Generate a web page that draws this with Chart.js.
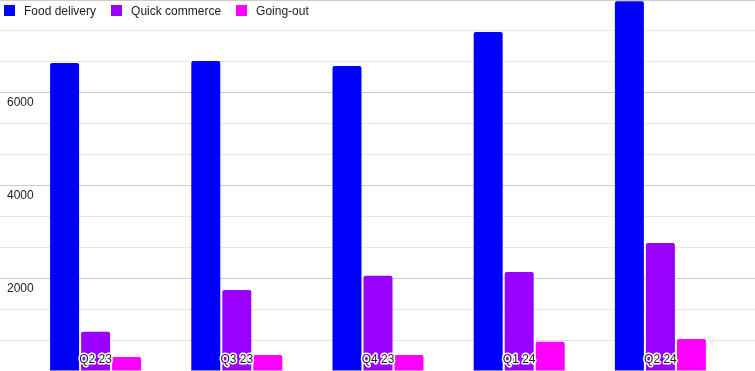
<!DOCTYPE html>
<html>
<head>
<meta charset="utf-8">
<script src="https://cdn.jsdelivr.net/npm/chart.js@4"></script>
<style>
    body { margin: 0; background: #fff; }
    #wrap { position: relative; width: 755px; height: 371px; }
    #legend { position: absolute; left: 4px; top: 5px; display: flex; font: 12px "Liberation Sans", Arial, sans-serif; color: #222; }
    .item { display: flex; align-items: center; margin-right: 15px; height: 11px; }
    .box { width: 11px; height: 11px; margin-right: 9px; }
</style>
</head>
<body>
<div id="wrap">
    <canvas id="chart"></canvas>
    <div id="legend"></div>
</div>
<script>
// Data
const quarters = ['Q2 23', 'Q3 23', 'Q4 23', 'Q1 24', 'Q2 24'];
const foodDelivery = [6640, 6685, 6575, 7310, 7975];
const quickCommerce = [845, 1745, 2055, 2135, 2760];
const goingOut = [300, 345, 345, 630, 690];
const yMax = 8000;
const yStep = 2000 / 3;

Chart.defaults.font.family = '"Liberation Sans", Arial, sans-serif';
Chart.defaults.font.size = 12;
Chart.defaults.color = '#222';

function isMajor(v) {
    return Math.abs(v / 2000 - Math.round(v / 2000)) < 1e-6;
}

const gridColor = ctx => isMajor(ctx.tick.value) ? '#cccccc' : '#e6e6e6';

// round joins so the white halo round the x labels has no spikes
const roundJoins = {
    id: 'roundJoins',
    beforeDraw(chart) {
        chart.ctx.lineJoin = 'round';
    }
};

const ctx = document.getElementById('chart').getContext('2d');
const chart = new Chart(ctx, {
    type: 'bar',
    data: {
        labels: quarters,
        datasets: [
            { label: 'Food delivery', data: foodDelivery, backgroundColor: '#0000ff' },
            { label: 'Quick commerce', data: quickCommerce, backgroundColor: '#9900ff' },
            { label: 'Going-out', data: goingOut, backgroundColor: '#ff00ff' }
        ]
    },
    options: {
        responsive: true,
        maintainAspectRatio: false,
        animation: false,
        categoryPercentage: 0.659,
        barPercentage: 0.935,
        borderRadius: 2,
        plugins: {
            legend: { display: false },
            tooltip: { enabled: false }
        },
        scales: {
            x: {
                grid: { display: false },
                border: { display: false },
                ticks: {
                    mirror: true,
                    padding: 4,
                    autoSkip: false,
                    maxRotation: 0,
                    textStrokeColor: '#fff',
                    textStrokeWidth: 3,
                    z: 1
                },
                afterFit: scale => { scale.height = 0; }
            },
            y: {
                min: 0,
                max: yMax,
                border: { display: false },
                grid: { color: gridColor, tickColor: gridColor, tickLength: 43 },
                ticks: {
                    stepSize: yStep,
                    maxTicksLimit: 20,
                    autoSkip: false,
                    mirror: true,
                    padding: -18,
                    labelOffset: 10,
                    callback: v => (isMajor(v) && v > 1 && v < yMax - 1) ? String(Math.round(v)) : ''
                },
                afterFit: scale => { scale.width = 25; }
            },
            y2: {
                position: 'right',
                min: 0,
                max: yMax,
                border: { display: false },
                grid: { color: gridColor, tickColor: gridColor, drawOnChartArea: false, tickLength: 24 },
                ticks: { stepSize: yStep, maxTicksLimit: 20, autoSkip: false, display: false },
                afterFit: scale => { scale.width = 24; }
            }
        }
    },
    plugins: [roundJoins]
});

// HTML legend built from the chart's datasets
const legendEl = document.getElementById('legend');
chart.options.plugins.legend.labels.generateLabels(chart).forEach(item => {
    const el = document.createElement('div');
    el.className = 'item';
    el.innerHTML = `<span class="box" style="background:${item.fillStyle}"></span><span>${item.text}</span>`;
    legendEl.appendChild(el);
});
</script>
</body>
</html>
